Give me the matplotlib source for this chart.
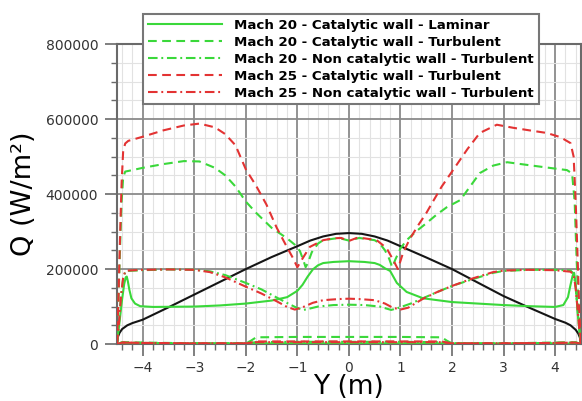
import matplotlib
matplotlib.use("Agg")
import matplotlib.pyplot as plt
from matplotlib.ticker import MultipleLocator

# ---------------- data ----------------
# Reference (black) curve
black_y = [-4.5, -4.49, -4.48, -4.45, -4.4, -4.3, -4.2, -4.0, -3.5, -3.0, -2.5, -2.0, -1.5, -1.0,
           -0.75, -0.5, -0.25, 0.0, 0.25, 0.5, 0.75, 1.0, 1.5, 2.0, 2.5, 3.0, 3.5, 4.0, 4.2,
           4.3, 4.4, 4.45, 4.48, 4.49, 4.5]
black_q = [0, 12000, 20000, 30000, 40000, 50000, 56000, 65000, 98000, 132000, 166000, 200000,
           232000, 261000, 276000, 287000, 294000, 296000, 294000, 287000, 276000, 261000,
           231000, 200000, 164000, 128000, 97000, 67000, 57000, 50000, 38000, 28000, 18000,
           12000, 0]

# Mach 20 - Catalytic wall - Laminar (windward then return along leeward side)
m20_lam_y = [-4.5, -4.45, -4.4, -4.36, -4.33, -4.31, -4.29, -4.26, -4.22, -4.15, -4.05, -3.8,
             -3.0, -2.5, -2.0, -1.5, -1.2, -1.0, -0.9, -0.8, -0.7, -0.6, -0.5, -0.3, 0.0, 0.3,
             0.5, 0.6, 0.7, 0.8, 0.93, 1.12, 1.44, 2.0, 2.5, 3.0, 3.5, 4.0, 4.16, 4.25, 4.3,
             4.34, 4.37, 4.4, 4.44, 4.5,
             4.0, 2.0, 0.0, -2.0, -4.0, -4.5]
m20_lam_q = [0, 60000, 120000, 160000, 178000, 180000, 168000, 145000, 122000, 108000, 101000,
             99000, 100000, 103000, 108000, 116000, 125000, 142000, 158000, 180000, 199000,
             210000, 216000, 219000, 221000, 219000, 216000, 211000, 202000, 195000, 163000,
             139000, 122000, 112000, 108000, 104000, 101000, 99000, 104000, 125000, 158000,
             182000, 190000, 160000, 80000, 0,
             1500, 1500, 1500, 1500, 1500, 0]

# Mach 20 - Catalytic wall - Turbulent
m20_cat_y = [-4.5, -4.47, -4.44, -4.41, -4.38, -4.34, -4.2, -4.0, -3.6, -3.2, -2.9, -2.6, -2.4,
             -2.2, -2.0, -1.8, -1.5, -1.2, -1.05, -0.95, -0.88, -0.84, -0.8, -0.72, -0.6, -0.5,
             -0.2, 0.0, 0.2, 0.5, 0.6, 0.7, 0.78, 0.84, 0.9, 1.0, 1.12, 1.3, 1.5, 1.7, 1.9,
             2.16, 2.35, 2.54, 2.8, 3.07, 3.5, 4.0, 4.23, 4.33, 4.38, 4.42, 4.46, 4.5,
             4.4, 4.0, 3.0, 2.0, 1.9, 1.8, 1.0, 0.0, -1.0, -1.8, -1.9, -2.0, -3.0, -4.0,
             -4.4, -4.5]
m20_cat_q = [0, 120000, 260000, 380000, 445000, 460000, 464000, 470000, 480000, 488000, 487000,
             470000, 450000, 420000, 380000, 350000, 310000, 282000, 265000, 248000, 222000,
             205000, 215000, 245000, 268000, 277000, 283000, 276000, 283000, 277000, 268000,
             250000, 228000, 205000, 225000, 255000, 277000, 300000, 322000, 345000, 365000,
             384000, 420000, 456000, 476000, 485000, 477000, 468000, 464000, 455000, 380000,
             220000, 90000, 0,
             5000, 4000, 2000, 2000, 9000, 18000, 19000, 19000, 19000, 18000, 9000, 2000,
             2000, 4000, 5000, 0]

# Mach 20 - Non catalytic wall - Turbulent
m20_nc_y = [-4.5, -4.46, -4.42, -4.38, -4.34, -4.3, -4.0, -3.5, -3.0, -2.7, -2.4, -2.0, -1.7,
            -1.4, -1.15, -1.0, -0.88, -0.75, -0.6, -0.3, 0.0, 0.3, 0.6, 0.72, 0.82, 0.95, 1.2,
            1.45, 1.7, 2.0, 2.4, 2.8, 3.0, 3.5, 4.0, 4.3, 4.36, 4.4, 4.44, 4.47, 4.5,
            4.4, 4.0, 3.0, 2.0, 1.8, 1.0, 0.0, -1.0, -1.8, -2.0, -3.0, -4.0, -4.4, -4.5]
m20_nc_q = [0, 60000, 130000, 175000, 192000, 195000, 197000, 199000, 198000, 194000, 184000,
            163000, 146000, 124000, 106000, 96000, 91000, 95000, 100000, 104000, 105000,
            104000, 100000, 95000, 91000, 96000, 108000, 123000, 138000, 155000, 173000,
            190000, 195000, 198000, 198000, 196000, 188000, 150000, 90000, 40000, 0,
            4000, 3000, 2000, 2000, 5000, 6000, 6000, 6000, 5000, 2000, 2000, 3000, 4000, 0]

# Mach 25 - Catalytic wall - Turbulent
m25_cat_y = [-4.5, -4.47, -4.44, -4.41, -4.38, -4.34, -4.28, -4.0, -3.6, -3.2, -2.9, -2.6,
             -2.4, -2.2, -2.0, -1.8, -1.6, -1.4, -1.2, -1.1, -1.0, -0.9, -0.76, -0.5, -0.3,
             -0.15, 0.0, 0.15, 0.3, 0.54, 0.73, 0.86, 0.95, 1.05, 1.18, 1.35, 1.5, 1.63, 1.8,
             2.02, 2.3, 2.54, 2.87, 3.18, 3.5, 3.84, 4.1, 4.3, 4.36, 4.4, 4.44, 4.47, 4.5,
             4.4, 4.0, 3.0, 2.0, 1.9, 1.8, 1.0, 0.0, -1.0, -1.8, -1.9, -2.0, -3.0, -4.0,
             -4.4, -4.5]
m25_cat_q = [0, 130000, 290000, 430000, 515000, 535000, 542000, 553000, 570000, 583000, 588000,
             578000, 560000, 530000, 466000, 422000, 372000, 310000, 258000, 233000, 205000,
             228000, 259000, 277000, 282000, 283000, 275000, 283000, 282000, 277000, 256000,
             224000, 200000, 243000, 280000, 318000, 349000, 380000, 420000, 464000, 520000,
             563000, 585000, 577000, 570000, 563000, 552000, 536000, 500000, 380000, 220000,
             90000, 0,
             4000, 3000, 1500, 1500, 4000, 7000, 7000, 7000, 7000, 7000, 4000, 1500, 1500,
             3000, 4000, 0]

# Mach 25 - Non catalytic wall - Turbulent
m25_nc_y = [-4.5, -4.46, -4.42, -4.38, -4.34, -4.3, -4.0, -3.5, -3.0, -2.7, -2.4, -2.0, -1.7,
            -1.4, -1.2, -1.05, -0.9, -0.7, -0.5, -0.2, 0.0, 0.2, 0.5, 0.7, 0.85, 1.0, 1.15,
            1.44, 1.7, 2.0, 2.4, 2.8, 3.0, 3.5, 4.0, 4.3, 4.36, 4.4, 4.44, 4.47, 4.5,
            4.4, 4.0, 3.0, 2.0, 1.8, 1.0, 0.0, -1.0, -1.8, -2.0, -3.0, -4.0, -4.4, -4.5]
m25_nc_q = [0, 60000, 130000, 178000, 193000, 196000, 198000, 199000, 198000, 192000, 178000,
            153000, 135000, 114000, 99000, 92000, 98000, 110000, 117000, 120000, 121000,
            120000, 117000, 108000, 97000, 92000, 97000, 121000, 138000, 155000, 175000,
            192000, 196000, 198000, 197000, 193000, 185000, 150000, 90000, 40000, 0,
            4000, 3000, 2000, 2000, 5000, 5000, 5000, 5000, 5000, 2000, 2000, 3000, 4000, 0]

labels = ["Mach 20 - Catalytic wall - Laminar",
          "Mach 20 - Catalytic wall - Turbulent",
          "Mach 20 - Non catalytic wall - Turbulent",
          "Mach 25 - Catalytic wall - Turbulent",
          "Mach 25 - Non catalytic wall - Turbulent"]

x_label = "Y (m)"
y_label = "Q (W/m\u00b2)"

# ---------------- style ----------------
GREEN = "#3ad83a"
RED = "#e33333"
LW = 1.5
DASH = (0, (4.2, 2.6))
DASHDOT = (0, (4.6, 1.8, 0.9, 1.8))

plt.rcParams["font.family"] = ["DejaVu Sans"]

fig = plt.figure(figsize=(5.82, 4.01), dpi=100)
ax = fig.add_axes([0.201, 0.142, 0.797, 0.748])

ax.plot(black_y, black_q, color="#151515", lw=LW, zorder=3)
h1, = ax.plot(m20_lam_y, m20_lam_q, color=GREEN, lw=LW, ls="-", zorder=4)
h2, = ax.plot(m20_cat_y, m20_cat_q, color=GREEN, lw=LW, ls=DASH, zorder=4)
h3, = ax.plot(m20_nc_y, m20_nc_q, color=GREEN, lw=LW, ls=DASHDOT, zorder=4)
h4, = ax.plot(m25_cat_y, m25_cat_q, color=RED, lw=LW, ls=DASH, zorder=5)
h5, = ax.plot(m25_nc_y, m25_nc_q, color=RED, lw=LW, ls=DASHDOT, zorder=5)

ax.set_xlim(-4.5, 4.5)
ax.set_ylim(0, 800000)
ax.xaxis.set_major_locator(MultipleLocator(1))
ax.xaxis.set_minor_locator(MultipleLocator(0.2))
ax.yaxis.set_major_locator(MultipleLocator(200000))
ax.yaxis.set_minor_locator(MultipleLocator(50000))

ax.grid(which="major", color="#8a8a8a", lw=1.3)
ax.grid(which="minor", color="#e2e2e2", lw=0.8)
ax.set_axisbelow(True)

for s in ax.spines.values():
    s.set_color("#6a6a6a")
    s.set_linewidth(1.5)

ax.tick_params(which="major", direction="out", length=8.5, width=1.2, color="#6a6a6a",
               labelsize=10, labelcolor="#333333", pad=4)
ax.tick_params(which="minor", direction="out", length=4.5, width=1.0, color="#6a6a6a")
ax.tick_params(axis="y", which="major", pad=5)

ax.set_xlabel(x_label, fontsize=19, labelpad=-1)
ax.set_ylabel(y_label, fontsize=19.5, labelpad=6)

leg = fig.legend([h1, h2, h3, h4, h5], labels, loc="upper left",
                 bbox_to_anchor=(0.2457, 0.965), bbox_transform=fig.transFigure,
                 borderaxespad=0, fancybox=False, framealpha=1, edgecolor="#777777",
                 prop={"weight": "bold", "size": 9.6}, handlelength=5.6,
                 handletextpad=0.9, labelspacing=0.3, borderpad=0.35)
leg.get_frame().set_linewidth(1.5)
leg.set_zorder(10)

fig.savefig("out.png", dpi=100)
